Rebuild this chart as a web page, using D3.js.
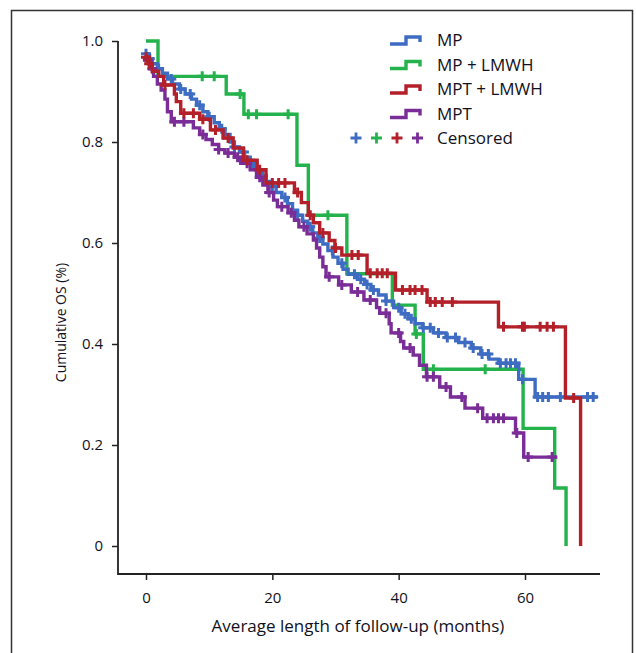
<!DOCTYPE html>
<html>
<head>
<meta charset="utf-8">
<script src="https://cdn.jsdelivr.net/npm/d3@7"></script>
<style>
  body{margin:0;background:#fff;}
  svg text{font-family:"Open Sans","Noto Sans",sans-serif;fill:#111122;}
</style>
</head>
<body>
<div id="chart"></div>
<script>
// step data: [months, survival after the drop]
const mpSteps = [[0,0.975],[0.3,0.965],[1,0.955],[1.8,0.945],[2.6,0.936],[3.4,0.925],[4.2,0.915],[5.3,0.905],[6.2,0.895],[7.2,0.885],[8,0.873],[9,0.86],[9.8,0.85],[10.8,0.838],[11.6,0.826],[12.5,0.815],[13.3,0.8],[14,0.79],[14.8,0.78],[15.6,0.77],[16.5,0.757],[17.3,0.745],[18.2,0.733],[19,0.722],[19.8,0.712],[20.6,0.7],[21.5,0.69],[22.4,0.678],[23.2,0.665],[24,0.655],[24.8,0.643],[25.6,0.632],[26.4,0.62],[27.2,0.61],[28,0.598],[28.8,0.585],[29.6,0.572],[30.4,0.56],[31.2,0.548],[32,0.538],[33.5,0.528],[34.6,0.518],[35.6,0.507],[36.8,0.497],[38,0.485],[39.2,0.472],[40.4,0.46],[41.5,0.45],[42.6,0.44],[43.8,0.432],[45.5,0.422],[47.5,0.413],[49.5,0.403],[51.5,0.392],[53,0.38],[54.3,0.37],[55.8,0.362],[59,0.33],[61.6,0.295]];
const mpEnd = 71.5;
const mpCensored = [0,0.3,0.6,2,4,5.5,7,8.5,10,12,14,15.5,17,18.5,20,22,24,26,27.5,29.5,31,33,34,35,36,38,40,41,42,43.9,45,46.3,47.7,49,50.5,51.8,53.2,54.2,56.1,57,57.7,58.5,59.6,62,62.8,63.7,65.6,69.9,70.8];

const mpLmwhSteps = [[0,1],[1.9,0.93],[12.7,0.895],[15.5,0.855],[23.9,0.754],[25.7,0.655],[31.8,0.539],[39,0.477],[42.6,0.42],[43.9,0.35],[59.7,0.233],[64.7,0.115],[66.5,0]];
const mpLmwhEnd = 66.5;
const mpLmwhCensored = [8.9,10.8,14.9,16.2,17.5,22.5,28.8,42.8,45.5,53.7];

const mptLmwhSteps = [[0,0.968],[0.5,0.955],[1,0.94],[2,0.93],[2.8,0.913],[4.5,0.895],[4.8,0.88],[5.5,0.857],[8.5,0.845],[10.2,0.824],[12.2,0.808],[13.8,0.788],[15.4,0.764],[17.6,0.745],[19,0.719],[23.5,0.7],[24.6,0.68],[25.7,0.655],[26.5,0.64],[27.5,0.62],[29,0.605],[29.9,0.59],[31,0.576],[35,0.54],[39.5,0.507],[44.5,0.483],[55.8,0.434],[66.4,0.293],[68.8,0]];
const mptLmwhEnd = 68.8;
const mptLmwhCensored = [0,0.5,3,6,7.5,9,11,13,16,18,20,21,22,24,26,28,30,32.6,33.6,35.5,36.6,37.4,38.2,40.6,41.8,42.6,43.7,45,45.8,46.9,48.5,56.6,59.6,59.9,62.4,63.5,64.5,67.7];

const mptSteps = [[0,0.962],[0.6,0.945],[1.2,0.93],[1.8,0.915],[2.4,0.903],[3,0.885],[3.4,0.86],[4,0.84],[7.5,0.828],[8.5,0.815],[9.5,0.805],[10.5,0.795],[11.5,0.785],[12.5,0.778],[14,0.77],[15,0.758],[16.5,0.745],[17.5,0.73],[18.5,0.715],[19.3,0.7],[20.2,0.685],[20.8,0.672],[22.5,0.66],[23.5,0.645],[24.2,0.632],[25.5,0.618],[26.5,0.606],[27,0.59],[27.5,0.572],[28,0.553],[28.5,0.533],[30.5,0.517],[32.5,0.503],[34.5,0.487],[36.5,0.472],[37,0.461],[38.5,0.44],[38.8,0.422],[40.3,0.405],[40.8,0.392],[42.3,0.378],[43.3,0.358],[44.4,0.335],[46.5,0.315],[48.2,0.295],[50.5,0.273],[53.3,0.253],[58.5,0.224],[59.8,0.176]];
const mptEnd = 65.1;
const mptCensored = [0.3,1,4.5,6,9,11.5,13,14.5,16,18,19.5,21.5,23,25,29,31,33.5,35.5,38,40,41.8,44.5,45.5,47.5,50,52.5,54,55,55.8,56.6,58.7,60.5,64.3];

const seriesNames = ["MP","MP + LMWH","MPT + LMWH","MPT"];
const seriesColors = ["#3d6cc2","#23b24b","#b3202a","#7a2c97"];
const xTicks = [0,20,40,60];
const yTicks = [0,0.2,0.4,0.6,0.8,1.0];
const yTickLabels = ["0","0.2","0.4","0.6","0.8","1.0"];

const series = [
  {name:seriesNames[0], color:seriesColors[0], steps:mpSteps, end:mpEnd, cens:mpCensored},
  {name:seriesNames[1], color:seriesColors[1], steps:mpLmwhSteps, end:mpLmwhEnd, cens:mpLmwhCensored},
  {name:seriesNames[2], color:seriesColors[2], steps:mptLmwhSteps, end:mptLmwhEnd, cens:mptLmwhCensored},
  {name:seriesNames[3], color:seriesColors[3], steps:mptSteps, end:mptEnd, cens:mptCensored}
];
const drawOrder = [1,0,3,2];

const W = 636, H = 653;
const svg = d3.select('#chart').append('svg').attr('width',W).attr('height',H);

// outer frame
svg.append('rect').attr('x',11.5).attr('y',10.5).attr('width',621).attr('height',700)
  .attr('fill','none').attr('stroke','#333').attr('stroke-width',1.5);

const x = d3.scaleLinear().domain([0,60]).range([146,525]);
const y = d3.scaleLinear().domain([0,1]).range([546,41]);
const xLeft = 118, xRight = 600, yBottom = 574;

// axes
const gx = svg.append('g').attr('transform',`translate(0,${yBottom})`)
  .call(d3.axisBottom(x).tickValues(xTicks).tickSize(6).tickSizeOuter(0).tickFormat(d3.format('d')));
gx.select('.domain').remove();
gx.selectAll('.tick line').attr('stroke','#222').attr('stroke-width',1.5);
gx.selectAll('.tick text').attr('dy','1.3em').style('font-size','15px');

const gy = svg.append('g').attr('transform',`translate(${xLeft},0)`)
  .call(d3.axisLeft(y).tickValues(yTicks).tickSize(6).tickSizeOuter(0).tickFormat((d,i)=>yTickLabels[i]));
gy.select('.domain').remove();
gy.selectAll('.tick line').attr('stroke','#222').attr('stroke-width',1.5);
gy.selectAll('.tick text').attr('dx','-0.4em').style('font-size','15px');

svg.append('path').attr('fill','none').attr('stroke','#222').attr('stroke-width',1.8)
  .attr('d',`M${xLeft},${y(1)}V${yBottom}H${xRight}`);

svg.append('text').attr('x',358).attr('y',632).attr('text-anchor','middle')
  .style('font-size','17px').text('Average length of follow-up (months)');
svg.append('text').attr('transform',`translate(66,${(y(0)+y(1))/2+29}) rotate(-90)`)
  .attr('text-anchor','middle').style('font-size','14px').text('Cumulative OS (%)');

// curves
const line = d3.line().x(d=>x(d[0])).y(d=>y(d[1])).curve(d3.curveStepAfter);
function survAt(steps,t){ let s=steps[0][1]; for(const p of steps){ if(p[0]<=t) s=p[1]; else break; } return s; }
const cross = 5;

drawOrder.forEach(i=>{
  const s = series[i];
  const pts = s.steps.slice();
  pts.push([s.end, pts[pts.length-1][1]]);
  const g = svg.append('g');
  g.append('path').attr('d',line(pts)).attr('fill','none')
    .attr('stroke',s.color).attr('stroke-width',3.4).attr('stroke-linejoin','miter');
  g.selectAll('path.c').data(s.cens).enter().append('path').attr('class','c')
    .attr('d',t=>{const cx=x(t), cy=y(survAt(s.steps,t)); return `M${cx-cross},${cy}H${cx+cross}M${cx},${cy-cross}V${cy+cross}`;})
    .attr('stroke',s.color).attr('stroke-width',3).attr('fill','none');
});

// legend
const leg = svg.append('g');
const ly0 = 40, lstep = 24.5;
series.forEach((s,i)=>{
  const yy = ly0 + i*lstep;
  leg.append('path').attr('d',`M390,${yy+4}H406V${yy-3}H420V${yy+2}`)
    .attr('fill','none').attr('stroke',s.color).attr('stroke-width',3.4);
  leg.append('text').attr('x',437).attr('y',yy+6).style('font-size','17px').text(s.name);
});
const cy = ly0 + 4*lstep;
[0,1,2,3].forEach(i=>{
  const cx = 356 + i*20.5;
  leg.append('path').attr('d',`M${cx-5.5},${cy}H${cx+5.5}M${cx},${cy-5.5}V${cy+5.5}`)
    .attr('stroke',seriesColors[i]).attr('stroke-width',2.8);
});
leg.append('text').attr('x',437).attr('y',cy+6).style('font-size','17px').text('Censored');
</script>
</body>
</html>
